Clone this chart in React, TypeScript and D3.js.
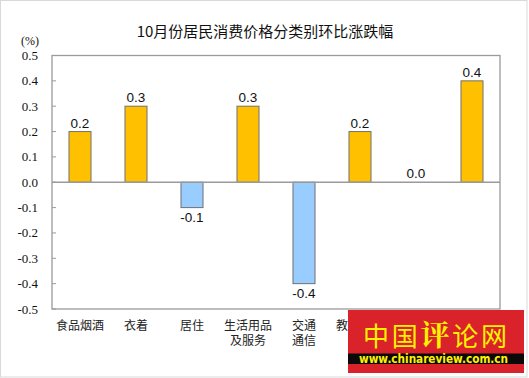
import React from "react";
import * as d3 from "d3";

const categories: string[][] = [
  ["食品烟酒"],
  ["衣着"],
  ["居住"],
  ["生活用品", "及服务"],
  ["交通", "通信"],
  ["教育文化", "娱乐"],
  ["医疗保健"],
  ["其他用品", "及服务"],
];
const values: number[] = [0.2, 0.3, -0.1, 0.3, -0.4, 0.2, 0.0, 0.4];
const yTicks: number[] = [0.5, 0.4, 0.3, 0.2, 0.1, 0.0, -0.1, -0.2, -0.3, -0.4, -0.5];
const title = "10月份居民消费价格分类别环比涨跌幅";
const unit = "(%)";

const W = 529;
const H = 378;
const plot = { left: 52, right: 500, top: 55.5, bottom: 309 };

export default function App() {
  const x = d3
    .scaleBand<number>()
    .domain(values.map((_, i) => i))
    .range([plot.left, plot.right])
    .paddingInner(0.607)
    .paddingOuter(0.3035);
  const y = d3.scaleLinear().domain([-0.5, 0.5]).range([plot.bottom, plot.top]);
  const band = x.step();
  const serif = "'Liberation Serif', 'Times New Roman', serif";
  const sans = "'Liberation Sans', Arial, sans-serif";
  const cjk = "'Noto Sans CJK SC', sans-serif";

  return (
    <svg
      width={W}
      height={H}
      style={{ position: "absolute", left: 0, top: 0, display: "block" }}
    >
      <rect x={0} y={0} width={W} height={H} fill="#fff" />
      <rect x={0.5} y={0.5} width={526.5} height={376.5} fill="none" stroke="#d9d9d9" strokeWidth={1} />
      <text x={265} y={37} textAnchor="middle" fontFamily={cjk} fontSize={15} fill="#111">
        {title}
      </text>
      <text x={30} y={45} textAnchor="middle" fontFamily={serif} fontSize={12} fill="#111">
        {unit}
      </text>
      {/* plot frame */}
      <rect
        x={plot.left}
        y={plot.top}
        width={plot.right - plot.left}
        height={plot.bottom - plot.top}
        fill="#fff"
        stroke="#9a9a9a"
        strokeWidth={1.3}
      />
      {yTicks.map((t) => (
        <g key={t}>
          <line x1={plot.left} x2={plot.left + 4} y1={y(t)} y2={y(t)} stroke="#9a9a9a" strokeWidth={1} />
          <text
            x={38}
            y={y(t) + 4.5}
            textAnchor="end"
            fontFamily={serif}
            fontSize={13}
            fill="#111"
          >
            {t.toFixed(1)}
          </text>
        </g>
      ))}
      {/* bars */}
      {values.map((v, i) => {
        const x0 = x(i)!;
        const y0 = Math.min(y(v), y(0));
        const h = Math.abs(y(v) - y(0));
        return (
          <g key={i}>
            {h > 0 && (
              <rect
                x={x0}
                y={y0}
                width={x.bandwidth()}
                height={h}
                fill={v >= 0 ? "#FFC000" : "#99CCFF"}
                stroke="#707070"
                strokeWidth={1}
              />
            )}
            <text
              x={x0 + x.bandwidth() / 2}
              y={v >= 0 ? y(v) - 4 : y(v) + 14}
              textAnchor="middle"
              fontFamily={sans}
              fontSize={13.5}
              fill="#111"
            >
              {v.toFixed(1)}
            </text>
          </g>
        );
      })}
      <line x1={plot.left} x2={plot.right} y1={y(0)} y2={y(0)} stroke="#9a9a9a" strokeWidth={1.3} />
      {/* category labels */}
      {categories.map((lines, i) => {
        const cx = x(i)! + x.bandwidth() / 2;
        return (
          <text key={i} textAnchor="middle" fontFamily={cjk} fontSize={12} fill="#222">
            {lines.map((l, j) => (
              <tspan key={j} x={cx} y={330 + j * 15}>
                {l}
              </tspan>
            ))}
          </text>
        );
      })}
      {/* watermark */}
      <g>
        <rect x={348} y={310} width={176} height={63} fill="#D9222A" />
        <rect x={348} y={353.5} width={176} height={10.5} fill="#0a0a0a" />
        <text x={363} y={346} fontFamily={cjk} fontSize={26} fill="#FFF200" textLength={144} lengthAdjust="spacing">
          中国<tspan fontFamily="'Noto Serif CJK SC', serif" fontWeight="bold" fontSize={29}>评</tspan>论网
        </text>
        <text
          x={433.5}
          y={363}
          textAnchor="middle"
          fontFamily="'DejaVu Sans', sans-serif"
          fontWeight="bold"
          fontSize={12}
          fill="#FFF200"
          textLength={149}
          lengthAdjust="spacingAndGlyphs"
        >
          www.chinareview.com.cn
        </text>
      </g>
    </svg>
  );
}
